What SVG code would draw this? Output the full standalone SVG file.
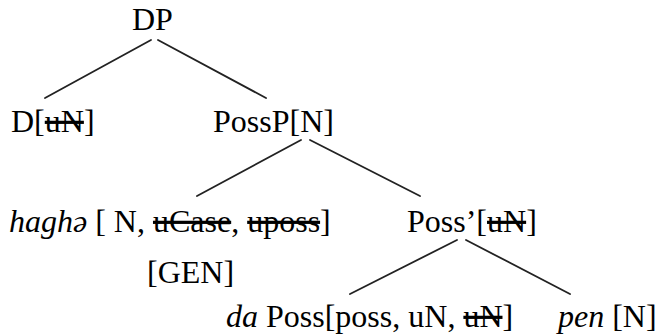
<svg xmlns="http://www.w3.org/2000/svg" width="669" height="336" viewBox="0 0 669 336">
<style>
text{font-family:"Liberation Serif","Times New Roman",serif;font-size:32px;fill:#000}
.i{font-style:italic}
.s{text-decoration:line-through}
#connectors line{stroke:#222;stroke-width:1.8;stroke-linecap:round}
</style>
<rect width="669" height="336" fill="#fff"/>
<g id="connectors">
<line x1="151" y1="40" x2="45" y2="98"/>
<line x1="158" y1="40" x2="266" y2="98"/>
<line x1="301" y1="140" x2="197" y2="196"/>
<line x1="310" y1="140" x2="420" y2="196"/>
<line x1="457" y1="240" x2="350" y2="294"/>
<line x1="466" y1="240" x2="570" y2="294"/>
</g>
<g id="DP"><text x="132" y="30">DP</text></g>
<g id="D"><text x="11" y="132">D[<tspan class="s">uN</tspan>]</text></g>
<g id="PossP"><text x="213" y="132">PossP[N]</text></g>
<g id="hagha"><text x="9" y="232"><tspan class="i">haghə</tspan> [ N, <tspan class="s">uCase</tspan>, <tspan class="s">uposs</tspan>]</text></g>
<g id="PossBar"><text x="407" y="232">Poss’[<tspan class="s">uN</tspan>]</text></g>
<g id="GEN"><text x="147" y="283">[GEN]</text></g>
<g id="Poss"><text x="226" y="327"><tspan class="i">da</tspan> Poss[poss, uN, <tspan class="s">uN</tspan>]</text></g>
<g id="pen"><text x="558" y="327"><tspan class="i">pen</tspan> [N]</text></g>
</svg>
